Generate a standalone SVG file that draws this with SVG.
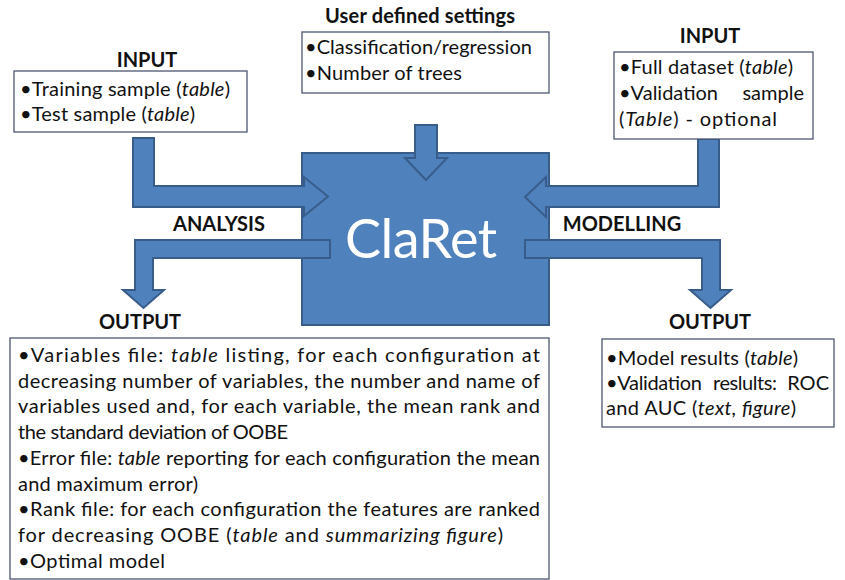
<svg xmlns="http://www.w3.org/2000/svg" width="845" height="580" viewBox="0 0 845 580">
  <style>
    .bg { fill: #ffffff; }
    .box { fill: #ffffff; stroke: #4a5670; stroke-width: 1.3; }
    .core { fill: #4f81bd; stroke: #385d8a; stroke-width: 2; }
    .flow { fill: #4f81bd; stroke: #385d8a; stroke-width: 2; stroke-linejoin: miter; }
    .t { font-family: Lato, "Open Sans", "Liberation Sans", sans-serif; font-size: 20px; fill: #111111; }
    .h { font-family: Lato, "Open Sans", "Liberation Sans", sans-serif; font-size: 20px; font-weight: bold; fill: #111111; text-anchor: middle; }
    .i { font-style: italic; }
    .big { font-family: Lato, "Open Sans", "Liberation Sans", sans-serif; font-size: 54px; fill: #ffffff; text-anchor: middle; }
  </style>
  <rect class="bg" x="0" y="0" width="845" height="580"/>

  <!-- central engine -->
  <g id="claret">
    <rect class="core" x="302" y="153" width="247" height="172"/>
    <text class="big" x="421" y="258" textLength="152">ClaRet</text>
  </g>

  <!-- block arrows between the boxes -->
  <g id="connectors">
    <!-- settings down into the engine -->
    <polygon class="flow" points="415,125 437,125 437,158 447,158 426,180 405,158 415,158"/>
    <!-- left input into the engine -->
    <polygon class="flow" points="133,138 154,138 154,186 304,186 304,177 328,196.5 304,216 304,207 133,207"/>
    <!-- right input into the engine -->
    <polygon class="flow" points="698,139 719,139 719,207 546,207 546,217 525,197 546,177 546,186 698,186"/>
    <!-- analysis output -->
    <polygon class="flow" points="330,240 330,258 153,258 153,290 164,290 143.5,308 123,290 135,290 135,240"/>
    <!-- modelling output -->
    <polygon class="flow" points="525,240 720,240 720,290 731,290 710.5,308 690,290 702,290 702,258 525,258"/>
  </g>

  <g id="input-left">
    <text class="h" x="147" y="67">INPUT</text>
    <rect class="box" x="14" y="71" width="233" height="61"/>
    <text class="t" x="20" y="96" textLength="210">•Training sample (<tspan class="i">table</tspan>)</text>
    <text class="t" x="20" y="121" textLength="175">•Test sample (<tspan class="i">table</tspan>)</text>
  </g>

  <g id="settings">
    <text class="h" x="420" y="23" textLength="190">User defined settings</text>
    <rect class="box" x="302" y="32" width="247" height="61"/>
    <text class="t" x="305" y="54" textLength="227">•Classification/regression</text>
    <text class="t" x="305" y="80" textLength="157">•Number of trees</text>
  </g>

  <g id="input-right">
    <text class="h" x="710" y="43">INPUT</text>
    <rect class="box" x="614" y="52" width="199" height="87"/>
    <text class="t" x="619" y="74" textLength="174">•Full dataset (<tspan class="i">table</tspan>)</text>
    <text class="t" x="619" y="100" textLength="99">•Validation</text>
    <text class="t" x="804" y="100" text-anchor="end">sample</text>
    <text class="t" x="619" y="126" textLength="158">(<tspan class="i">Table</tspan>) - optional</text>
  </g>

  <g id="labels">
    <text class="h" x="219" y="231">ANALYSIS</text>
    <text class="h" x="622" y="231">MODELLING</text>
  </g>

  <g id="output-left">
    <text class="h" x="140" y="329">OUTPUT</text>
    <rect class="box" x="10" y="338" width="539" height="241"/>
    <text class="t" x="18" y="362" textLength="522">•Variables file: <tspan class="i">table</tspan> listing, for each configuration at</text>
    <text class="t" x="18" y="387.7" textLength="522">decreasing number of variables, the number and name of</text>
    <text class="t" x="18" y="413.4" textLength="522">variables used and, for each variable, the mean rank and</text>
    <text class="t" x="18" y="439.1" textLength="270">the standard deviation of OOBE</text>
    <text class="t" x="18" y="464.8" textLength="522">•Error file: <tspan class="i">table</tspan> reporting for each configuration the mean</text>
    <text class="t" x="18" y="490.5" textLength="180">and maximum error)</text>
    <text class="t" x="18" y="516.2" textLength="522">•Rank file: for each configuration the features are ranked</text>
    <text class="t" x="18" y="541.9" textLength="485">for decreasing OOBE (<tspan class="i">table</tspan> and <tspan class="i">summarizing figure</tspan>)</text>
    <text class="t" x="18" y="567.6" textLength="147">•Optimal model</text>
  </g>

  <g id="output-right">
    <text class="h" x="710" y="329">OUTPUT</text>
    <rect class="box" x="602" y="339" width="232" height="88"/>
    <text class="t" x="606" y="365" textLength="192">•Model results (<tspan class="i">table</tspan>)</text>
    <text class="t" x="606" y="390" textLength="96">•Validation</text>
    <text class="t" x="713" y="390" textLength="64">reslults:</text>
    <text class="t" x="829" y="390" text-anchor="end">ROC</text>
    <text class="t" x="606" y="415" textLength="190">and AUC (<tspan class="i">text, figure</tspan>)</text>
  </g>
</svg>
